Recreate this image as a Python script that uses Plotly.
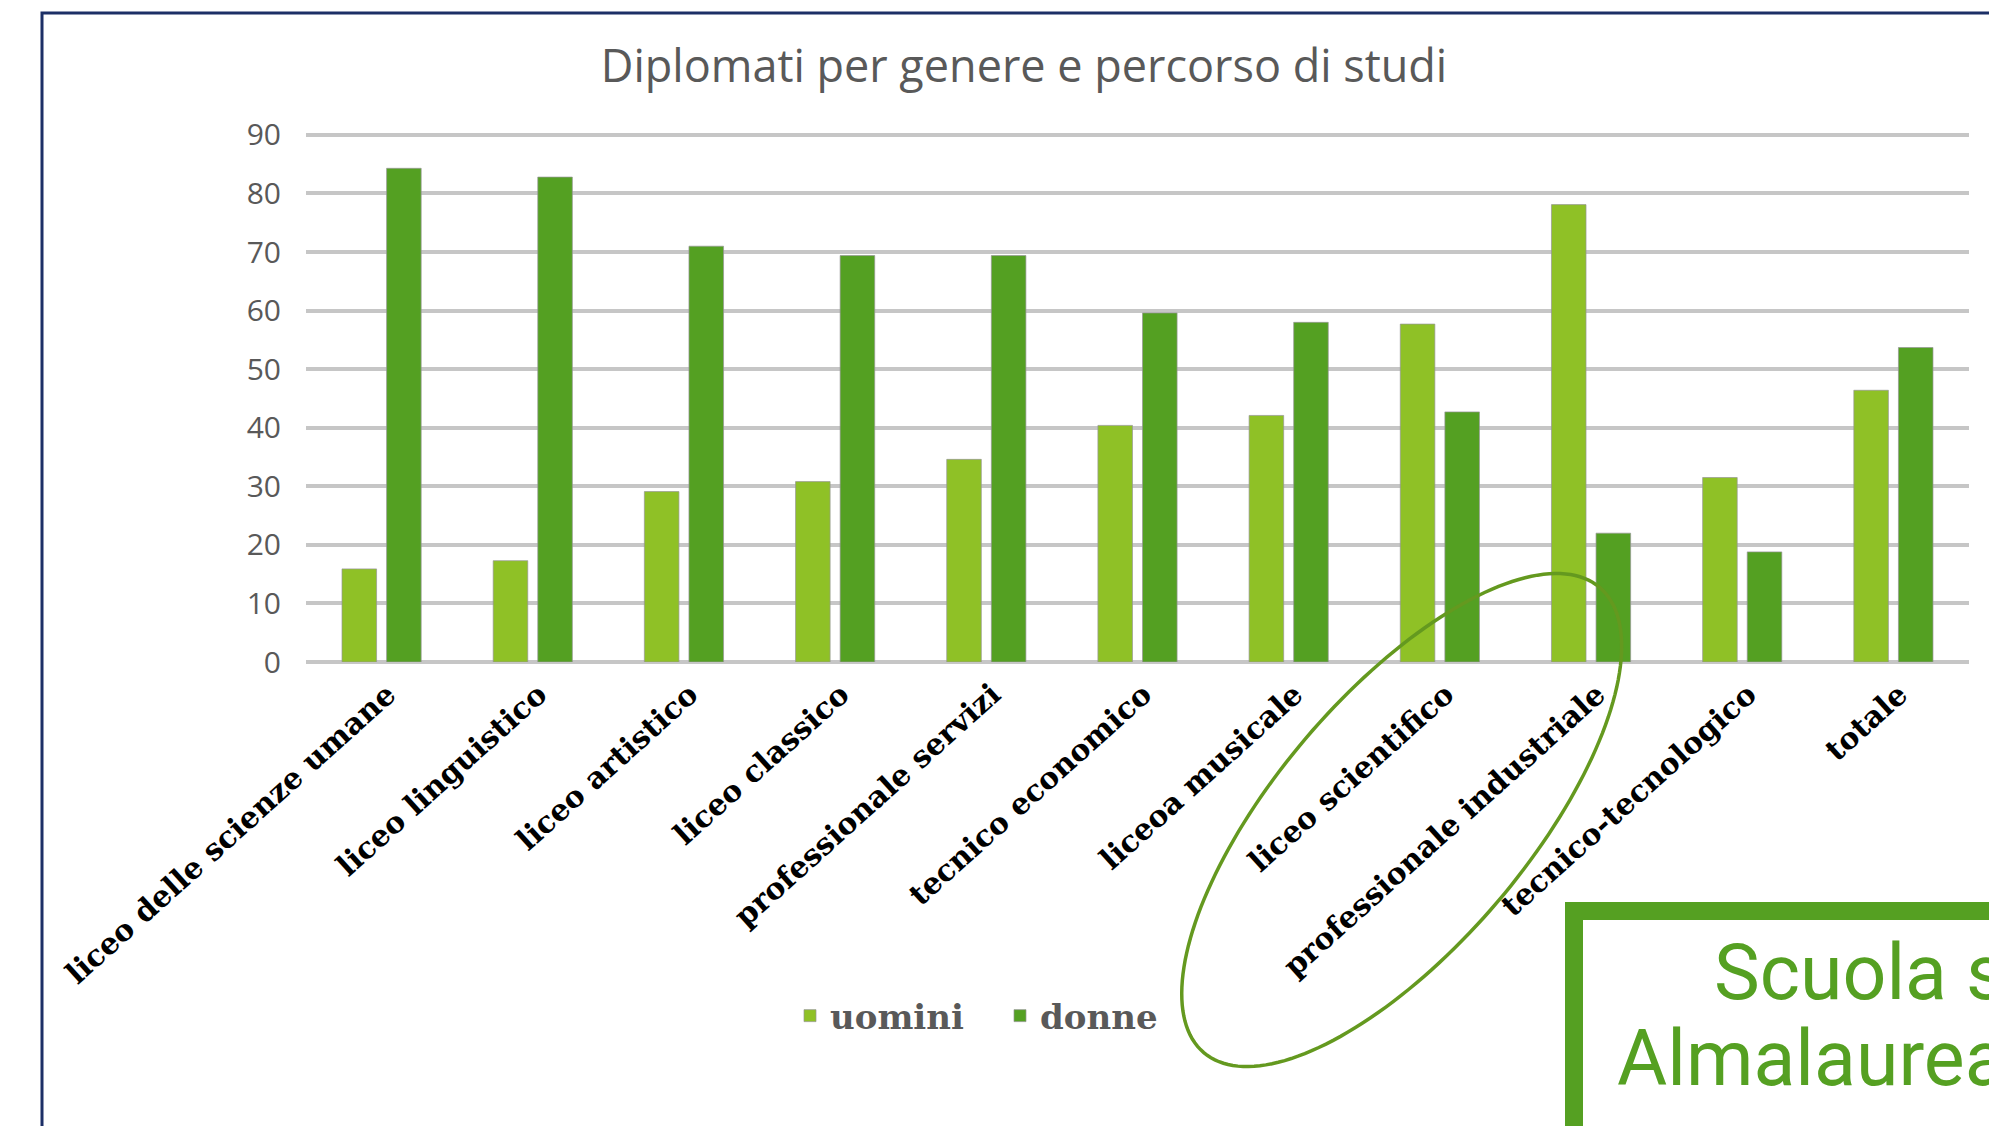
import numpy as np
import plotly.graph_objects as go

# ---------------- data ----------------
categories = [
    "liceo delle scienze umane", "liceo linguistico", "liceo artistico", "liceo classico",
    "professionale servizi", "tecnico economico", "liceoa musicale", "liceo scientifico",
    "professionale industriale", "tecnico-tecnologico", "totale",
]
uomini = [15.9, 17.3, 29.1, 30.8, 34.6, 40.4, 42.1, 57.7, 78.1, 31.5, 46.4]
donne = [84.3, 82.8, 71.0, 69.4, 69.4, 59.6, 58.0, 42.7, 22.0, 18.8, 53.7]
y_ticks = [0, 10, 20, 30, 40, 50, 60, 70, 80, 90]
series_names = ["uomini", "donne"]
title_text = "Diplomati per genere e percorso di studi"
box_lines = ["Scuola su", "Almalaurea"]

# ---------------- layout geometry (page pixels) ----------------
OFF = 8  # page body margin
W, H = 1997 - OFF, 1126 - OFF
Y_TOP = 90.5
L, R, B = 306, 1969, 662
T = B - (B - 135) * Y_TOP / 90.0  # so that 90 sits at page y=135


def px(x):
    return (x - L) / (R - L)


def py(y):
    return (B - y) / (B - T)


C_UOM = "#8FC126"
C_DON = "#54A022"
GRAY = "#595959"

fig = go.Figure()
fig.add_trace(go.Bar(name=series_names[0], x=categories, y=uomini,
                     marker=dict(color=C_UOM, line=dict(color="rgba(150,150,150,0.7)", width=1))))
fig.add_trace(go.Bar(name=series_names[1], x=categories, y=donne,
                     marker=dict(color=C_DON, line=dict(color="rgba(150,150,150,0.7)", width=1))))

shapes = []
# outer navy frame
shapes.append(dict(type="rect", xref="paper", yref="paper",
                   x0=px(42), y0=py(13), x1=px(2200), y1=py(1300),
                   line=dict(color="#1C2F66", width=3), fillcolor="rgba(0,0,0,0)", layer="below"))

# hand-drawn ellipse highlight
cx, cy, a, b, th = 1401.7, 820.0, 305.4, 126.0, np.radians(49.6)
t = np.linspace(0, 2 * np.pi, 181)
ex = cx + a * np.cos(th) * np.cos(t) - b * np.sin(th) * np.sin(t)
ey = cy - (a * np.sin(th) * np.cos(t) + b * np.cos(th) * np.sin(t))
path = "M " + " L ".join(f"{px(xx):.5f},{py(yy):.5f}" for xx, yy in zip(ex, ey)) + " Z"
shapes.append(dict(type="path", xref="paper", yref="paper", path=path,
                   line=dict(color="#64991F", width=3.5), layer="above"))

# green box bottom right
shapes.append(dict(type="rect", xref="paper", yref="paper",
                   x0=px(1565 + 9), y0=py(902 + 9), x1=px(2200), y1=py(1300),
                   line=dict(color="#55A022", width=18), fillcolor="white", layer="above"))

annotations = [
    dict(text=box_lines[0], xref="paper", yref="paper", x=px(1712), y=py(1000 - 27),
         xanchor="left", yanchor="middle", showarrow=False,
         font=dict(family="Roboto", size=77, color="#55A022")),
    dict(text=box_lines[1], xref="paper", yref="paper", x=px(1615), y=py(1086 - 27),
         xanchor="left", yanchor="middle", showarrow=False,
         font=dict(family="Roboto", size=77, color="#55A022")),
]

fig.update_layout(
    width=W, height=H,
    margin=dict(l=L - OFF, r=W - (R - OFF), t=T - OFF, b=H - (B - OFF), pad=0),
    paper_bgcolor="white", plot_bgcolor="white",
    barmode="group", bargap=0.41, bargroupgap=0.225,
    title=dict(text=title_text, x=(1024 - OFF) / W, xref="container", xanchor="center",
               y=1 - (66 - OFF) / H, yref="container", yanchor="middle",
               font=dict(family="Open Sans", size=45, color=GRAY)),
    xaxis=dict(type="category", tickangle=-42, showgrid=False, showline=False, ticks="",
               tickfont=dict(family="DejaVu Serif", size=30, color="black", weight="bold"),
               ticklabelstandoff=8, ticklabelshift=6),
    yaxis=dict(range=[0, Y_TOP], tickvals=y_ticks, showgrid=True, gridcolor="#C6C6C6", gridwidth=4,
               zeroline=True, zerolinecolor="#C6C6C6", zerolinewidth=4, showline=False, ticks="",
               tickfont=dict(family="Open Sans", size=30, color=GRAY), ticklabelstandoff=24),
    showlegend=True,
    legend=dict(orientation="h", x=px(790), y=py(1016), xanchor="left", yanchor="middle",
                font=dict(family="DejaVu Serif", size=34, color=GRAY, weight="bold"),
                bgcolor="rgba(0,0,0,0)", itemwidth=30, entrywidth=165, entrywidthmode="pixels"),
    shapes=shapes,
    annotations=annotations,
)

fig.write_html("out.html")
